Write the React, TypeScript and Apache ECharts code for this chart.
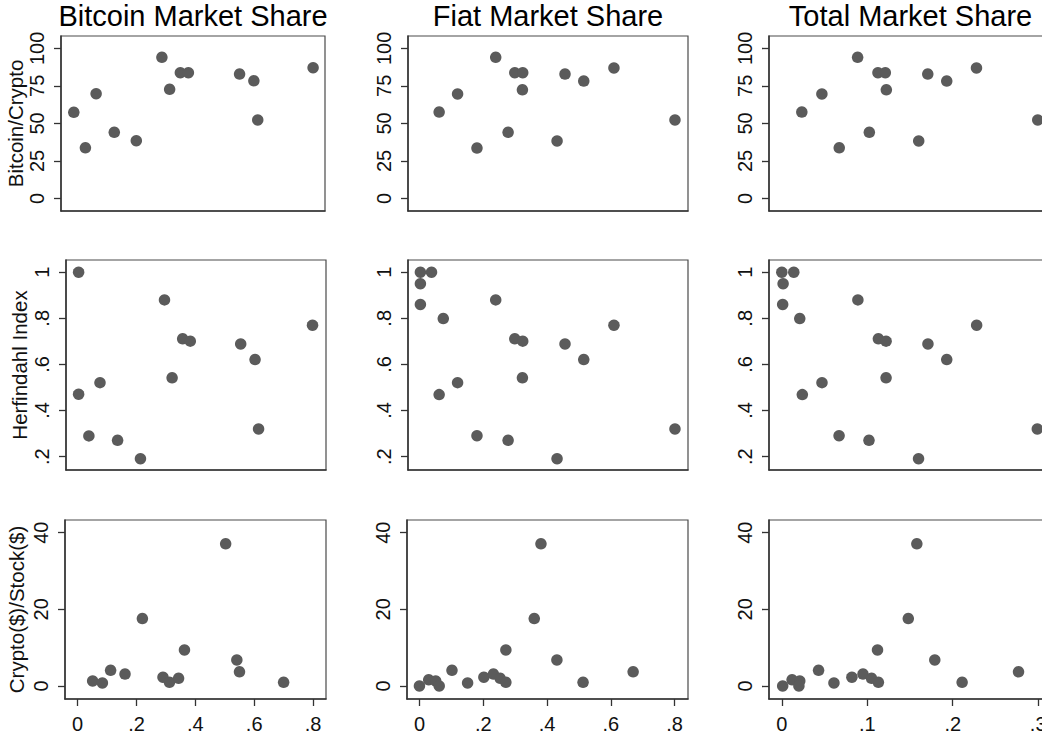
import React, { useEffect, useRef } from 'react';
import * as echarts from 'echarts';

const columnTitles = ['Bitcoin Market Share', 'Fiat Market Share', 'Total Market Share'];
const rowTitles = ['Bitcoin/Crypto', 'Herfindahl Index', 'Crypto($)/Stock($)'];

const xTicksByCol = [
  [0, 0.2, 0.4, 0.6, 0.8],
  [0, 0.2, 0.4, 0.6, 0.8],
  [0, 0.1, 0.2, 0.3],
];
const yTicksByRow = [
  [0, 25, 50, 75, 100],
  [0.2, 0.4, 0.6, 0.8, 1],
  [0, 20, 40],
];
const xExtentByCol = [
  [-0.043, 0.844],
  [-0.039, 0.842],
  [-0.015, 0.315],
];
const yExtentByRow = [
  [-8.3, 108.2],
  [0.142, 1.053],
  [-3.4, 43.3],
];

// Row 1: Bitcoin/Crypto
const btcShareVsBtcCrypto = [
  [0.0, 57.4], [0.039, 33.8], [0.075, 69.8], [0.136, 44.1], [0.21, 38.5], [0.296, 94.0],
  [0.322, 72.7], [0.358, 83.8], [0.385, 83.8], [0.557, 82.9], [0.605, 78.4], [0.618, 52.3], [0.804, 87.1],
];
const fiatShareVsBtcCrypto = [
  [0.059, 57.6], [0.117, 69.6], [0.178, 33.6], [0.237, 94.0], [0.276, 44.1], [0.297, 83.8],
  [0.322, 83.8], [0.321, 72.4], [0.43, 38.3], [0.455, 82.9], [0.514, 78.2], [0.609, 86.9], [0.801, 52.3],
];
const totalShareVsBtcCrypto = [
  [0.0234, 57.6], [0.0469, 69.6], [0.0672, 33.8], [0.0887, 94.0], [0.1024, 44.1], [0.1125, 83.8],
  [0.1211, 83.8], [0.1223, 72.4], [0.1602, 38.3], [0.1708, 82.9], [0.193, 78.2], [0.2278, 86.9], [0.2995, 52.3],
];

// Row 2: Herfindahl Index
const btcShareVsHerfindahl = [
  [0.0, 1.0], [0.0, 0.471], [0.035, 0.29], [0.073, 0.521], [0.133, 0.271], [0.211, 0.191], [0.293, 0.88],
  [0.319, 0.542], [0.355, 0.711], [0.381, 0.701], [0.553, 0.689], [0.602, 0.621], [0.614, 0.32], [0.798, 0.77],
];
const fiatShareVsHerfindahl = [
  [0.0, 1.0], [0.035, 1.0], [0.0, 0.95], [0.0, 0.86], [0.072, 0.799], [0.059, 0.469], [0.117, 0.521],
  [0.178, 0.291], [0.237, 0.88], [0.276, 0.271], [0.297, 0.711], [0.322, 0.701], [0.321, 0.542],
  [0.43, 0.191], [0.455, 0.689], [0.514, 0.621], [0.609, 0.77], [0.801, 0.32],
];
const totalShareVsHerfindahl = [
  [0.0, 1.0], [0.014, 1.0], [0.0015, 0.95], [0.001, 0.86], [0.021, 0.799], [0.024, 0.469], [0.047, 0.521],
  [0.067, 0.291], [0.089, 0.88], [0.102, 0.271], [0.113, 0.711], [0.122, 0.701], [0.122, 0.542],
  [0.16, 0.191], [0.171, 0.689], [0.193, 0.621], [0.228, 0.77], [0.299, 0.32],
];

// Row 3: Crypto($)/Stock($)
const btcShareVsCryptoStock = [
  [0.051, 1.3], [0.084, 0.8], [0.112, 4.1], [0.161, 3.1], [0.22, 17.6], [0.29, 2.3], [0.312, 0.96],
  [0.343, 2.0], [0.363, 9.4], [0.503, 37.1], [0.541, 6.8], [0.55, 3.7], [0.7, 0.96],
];
const fiatShareVsCryptoStock = [
  [0.0, 0.0], [0.029, 1.6], [0.051, 1.3], [0.062, 0.0], [0.102, 4.1], [0.151, 0.8], [0.202, 2.3],
  [0.232, 3.1], [0.253, 2.0], [0.271, 0.96], [0.271, 9.4], [0.36, 17.6], [0.381, 37.1], [0.431, 6.8],
  [0.513, 0.96], [0.67, 3.7],
];
const totalShareVsCryptoStock = [
  [0.001, 0.0], [0.012, 1.6], [0.021, 1.3], [0.02, 0.0], [0.043, 4.1], [0.061, 0.8], [0.082, 2.3],
  [0.095, 3.1], [0.105, 2.0], [0.113, 0.96], [0.112, 9.4], [0.148, 17.6], [0.158, 37.1], [0.179, 6.8],
  [0.211, 0.96], [0.277, 3.7],
];

const panelData = [
  [btcShareVsBtcCrypto, fiatShareVsBtcCrypto, totalShareVsBtcCrypto],
  [btcShareVsHerfindahl, fiatShareVsHerfindahl, totalShareVsHerfindahl],
  [btcShareVsCryptoStock, fiatShareVsCryptoStock, totalShareVsCryptoStock],
];

const FONT = '"Liberation Sans", Arial, Helvetica, sans-serif';

const fmt = (v: number) => {
  const s = String(Math.round(v * 1000) / 1000);
  return s.replace(/^0\./, '.').replace(/^-0\./, '-.');
};

export default function App() {
  const ref = useRef<HTMLDivElement>(null);

  useEffect(() => {
    if (!ref.current) return;
    const chart = echarts.init(ref.current, undefined, { renderer: 'svg' });

    const rowBoxes = [
      { top: 36, height: 175, cols: [[61, 264], [408, 280], [769, 282]], nameGap: 34 },
      { top: 260, height: 210, cols: [[66, 260], [408, 280], [769, 282]], nameGap: 36 },
      { top: 520, height: 179, cols: [[65, 261], [407, 281], [769, 282]], nameGap: 38 },
    ];

    const grids: any[] = [];
    const xAxes: any[] = [];
    const yAxes: any[] = [];
    const series: any[] = [];

    for (let r = 0; r < 3; r++) {
      for (let c = 0; c < 3; c++) {
        const idx = r * 3 + c;
        const box = rowBoxes[r];
        grids.push({
          left: box.cols[c][0],
          width: box.cols[c][1],
          top: box.top,
          height: box.height,
          show: true,
          borderColor: '#4a4a4a',
          borderWidth: 1.2,
          backgroundColor: '#fff',
          containLabel: false,
        });
        const showX = r === 2;
        xAxes.push({
          type: 'value',
          gridIndex: idx,
          min: xExtentByCol[c][0],
          max: xExtentByCol[c][1],
          axisLine: { show: true, onZero: false, lineStyle: { color: '#333', width: 1.5 } },
          axisTick: {
            show: showX,
            length: 7,
            customValues: xTicksByCol[c],
            lineStyle: { color: '#333', width: 1.3 },
          },
          axisLabel: {
            show: showX,
            customValues: xTicksByCol[c],
            formatter: (v: number) => fmt(v),
            margin: 15,
            fontSize: 20,
            fontFamily: FONT,
            color: '#111',
          },
          splitLine: { show: false },
        });
        yAxes.push({
          type: 'value',
          gridIndex: idx,
          min: yExtentByRow[r][0],
          max: yExtentByRow[r][1],
          name: c === 0 ? rowTitles[r] : '',
          nameLocation: 'middle',
          nameGap: box.nameGap,
          nameTextStyle: { fontSize: 20.5, fontFamily: FONT, color: '#111' },
          axisLine: { show: true, onZero: false, lineStyle: { color: '#333', width: 1.5 } },
          axisTick: {
            show: true,
            length: 7,
            customValues: yTicksByRow[r],
            lineStyle: { color: '#333', width: 1.3 },
          },
          axisLabel: {
            show: true,
            rotate: 90,
            customValues: yTicksByRow[r],
            formatter: (v: number) => fmt(v),
            margin: 14,
            fontSize: 20,
            fontFamily: FONT,
            color: '#111',
          },
          splitLine: { show: false },
        });
        series.push({
          type: 'scatter',
          xAxisIndex: idx,
          yAxisIndex: idx,
          data: panelData[r][c],
          symbol: 'circle',
          symbolSize: 11.5,
          itemStyle: { color: '#5b5b5b', opacity: 1 },
          emphasis: { disabled: true },
        });
      }
    }

    const titleCenters = [193, 548, 910.5];
    const graphic = columnTitles.map((t, c) => ({
      type: 'text',
      x: titleCenters[c],
      y: 15.5,
      silent: true,
      style: {
        text: t,
        fontSize: 29,
        fontFamily: FONT,
        fill: '#000',
        align: 'center',
        verticalAlign: 'middle',
        textAlign: 'center',
        textVerticalAlign: 'middle',
      },
    }));

    chart.setOption({
      animation: false,
      backgroundColor: '#fff',
      grid: grids,
      xAxis: xAxes,
      yAxis: yAxes,
      series,
      graphic,
    });

    return () => chart.dispose();
  }, []);

  return (
    <div
      ref={ref}
      style={{ position: 'fixed', left: 0, top: 0, width: 1060, height: 738, background: '#fff' }}
    />
  );
}
